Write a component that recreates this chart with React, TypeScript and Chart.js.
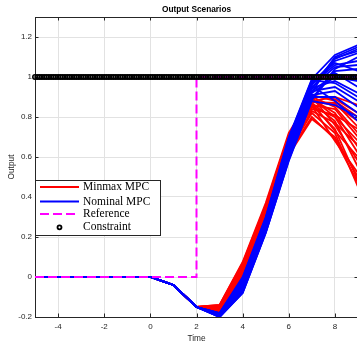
import React, { useEffect, useRef } from "react";
import { Chart, registerables } from "chart.js";

Chart.register(...registerables);

// ---------- data ----------
const timeSteps = [-5, -4, -3, -2, -1, 0, 1, 2, 3, 4, 5, 6, 7, 8, 9];
// shared output for t = -5 .. 2
const commonStart = [0, 0, 0, 0, 0, 0, -0.04, -0.15];

// Minmax MPC scenarios, values at t = 3 .. 9
const minmaxScenarios: number[][] = [
  [-0.14, 0.075, 0.37, 0.72, 0.91, 0.88, 0.8],
  [-0.145, 0.06, 0.35, 0.7, 0.9, 0.85, 0.72],
  [-0.15, 0.05, 0.34, 0.69, 0.89, 0.82, 0.65],
  [-0.155, 0.04, 0.33, 0.68, 0.88, 0.9, 0.86],
  [-0.16, 0.03, 0.32, 0.67, 0.87, 0.78, 0.55],
  [-0.165, 0.02, 0.31, 0.66, 0.86, 0.74, 0.48],
  [-0.17, 0.01, 0.3, 0.65, 0.85, 0.8, 0.62],
  [-0.175, -0.015, 0.27, 0.61, 0.79, 0.7, 0.5],
  [-0.14, 0.07, 0.36, 0.71, 0.9, 0.76, 0.58],
  [-0.15, 0.045, 0.335, 0.685, 0.88, 0.86, 0.78],
  [-0.16, 0.025, 0.315, 0.665, 0.86, 0.84, 0.7],
  [-0.17, 0.0, 0.29, 0.63, 0.82, 0.72, 0.45],
  [-0.145, 0.055, 0.345, 0.695, 0.895, 0.8, 0.68],
  [-0.155, 0.035, 0.325, 0.675, 0.875, 0.87, 0.75],
  [-0.165, 0.015, 0.305, 0.655, 0.855, 0.68, 0.52],
  [-0.15, 0.05, 0.34, 0.69, 0.87, 0.73, 0.6],
  [-0.16, 0.03, 0.32, 0.67, 0.84, 0.81, 0.74],
  [-0.145, 0.065, 0.355, 0.705, 0.905, 0.89, 0.82],
  [-0.17, 0.005, 0.295, 0.64, 0.83, 0.77, 0.66],
  [-0.175, -0.01, 0.28, 0.62, 0.8, 0.69, 0.47],
];

// Nominal MPC scenarios, values at t = 3 .. 9
const nominalScenarios: number[][] = [
  [-0.18, 0.0, 0.3, 0.7, 0.99, 1.11, 1.16],
  [-0.185, -0.02, 0.28, 0.68, 0.97, 1.08, 1.12],
  [-0.19, -0.04, 0.26, 0.65, 0.95, 1.05, 1.06],
  [-0.195, -0.06, 0.24, 0.62, 0.92, 1.0, 0.98],
  [-0.2, -0.08, 0.22, 0.58, 0.88, 0.86, 0.8],
  [-0.18, -0.01, 0.29, 0.69, 0.98, 1.02, 0.95],
  [-0.185, -0.03, 0.27, 0.66, 0.96, 1.09, 1.14],
  [-0.19, -0.05, 0.25, 0.63, 0.93, 0.95, 0.88],
  [-0.195, -0.07, 0.23, 0.6, 0.9, 0.9, 0.82],
  [-0.2, -0.075, 0.225, 0.59, 0.89, 1.04, 1.1],
  [-0.182, -0.015, 0.285, 0.685, 0.975, 1.07, 1.03],
  [-0.188, -0.035, 0.265, 0.655, 0.945, 0.98, 0.92],
  [-0.192, -0.045, 0.255, 0.64, 0.94, 1.1, 1.15],
  [-0.197, -0.065, 0.235, 0.61, 0.91, 0.93, 0.85],
  [-0.183, -0.025, 0.275, 0.67, 0.965, 1.06, 1.08],
  [-0.19, -0.05, 0.25, 0.635, 0.93, 1.01, 1.0],
  [-0.186, -0.03, 0.27, 0.66, 0.955, 0.88, 0.78],
  [-0.2, -0.08, 0.22, 0.585, 0.885, 1.03, 1.04],
  [-0.181, -0.005, 0.295, 0.695, 0.985, 0.97, 0.9],
  [-0.194, -0.055, 0.245, 0.625, 0.925, 1.095, 1.13],
];

const referenceTimes = [-5, 2, 2, 9];
const referenceValues = [0, 0, 1, 1];

const constraintLevel = 1;
const constraintStart = -5;
const constraintEnd = 9;
const constraintStep = 0.1;

const xTicks = [-4, -2, 0, 2, 4, 6, 8];
const yTicks = [-0.2, 0, 0.2, 0.4, 0.6, 0.8, 1, 1.2];
const xMin = -5;
const xMax = 9;
const yMin = -0.2;
const yMax = 1.3;

const seriesNames = ["Minmax MPC", "Nominal MPC", "Reference", "Constraint"];
const chartTitle = "Output Scenarios";
const xTitle = "Time";
const yTitle = "Output";

// ---------- styles ----------
const RED = "#ff0000";
const BLUE = "#0000ff";
const MAGENTA = "#ff00ff";
const AXIS = "#262626";
const GRID = "#e2e2e2";
const SANS = '"Liberation Sans", Arial, sans-serif';
const SERIF = '"Liberation Serif", "Times New Roman", serif';

const fmt = (v: number) => String(Math.round(v * 10) / 10);

function buildDatasets() {
  const ds: any[] = [];
  const constraintPts: { x: number; y: number }[] = [];
  const n = Math.round((constraintEnd - constraintStart) / constraintStep);
  for (let i = 0; i <= n; i++) {
    constraintPts.push({ x: constraintStart + i * constraintStep, y: constraintLevel });
  }
  ds.push({
    label: seriesNames[3],
    data: constraintPts,
    showLine: false,
    pointRadius: 2.2,
    pointBorderWidth: 1.6,
    pointBorderColor: "#000000",
    pointBackgroundColor: "rgba(0,0,0,0)",
    clip: false,
    order: 0,
  });
  ds.push({
    label: seriesNames[2],
    data: referenceTimes.map((t, i) => ({ x: t, y: referenceValues[i] })),
    borderColor: MAGENTA,
    borderWidth: 2,
    borderDash: [9, 4],
    pointRadius: 0,
    order: 1,
  });
  nominalScenarios.forEach((sc) => {
    const vals = commonStart.concat(sc);
    ds.push({
      label: seriesNames[1],
      data: timeSteps.map((t, i) => ({ x: t, y: vals[i] })),
      borderColor: BLUE,
      borderWidth: 1.8,
      pointRadius: 0,
      order: 2,
    });
  });
  minmaxScenarios.forEach((sc) => {
    const vals = commonStart.concat(sc);
    ds.push({
      label: seriesNames[0],
      data: timeSteps.map((t, i) => ({ x: t, y: vals[i] })),
      borderColor: RED,
      borderWidth: 1.8,
      pointRadius: 0,
      order: 3,
    });
  });
  return ds;
}

const framePlugin = {
  id: "matlabFrame",
  beforeDatasetsDraw(chart: any) {
    const { ctx, chartArea } = chart;
    const xs = chart.scales.x;
    const ys = chart.scales.y;
    const L = chartArea.left, R = chartArea.right, T = chartArea.top, B = chartArea.bottom;
    ctx.save();
    ctx.strokeStyle = AXIS;
    ctx.lineWidth = 1;
    ctx.beginPath();
    ctx.moveTo(L, Math.round(T) + 0.5);
    ctx.lineTo(R + 0.5, Math.round(T) + 0.5);
    ctx.moveTo(Math.round(R) + 0.5, T);
    ctx.lineTo(Math.round(R) + 0.5, B);
    const tl = 3.5;
    xTicks.forEach((v) => {
      const px = Math.round(xs.getPixelForValue(v)) + 0.5;
      ctx.moveTo(px, B);
      ctx.lineTo(px, B - tl);
      ctx.moveTo(px, T);
      ctx.lineTo(px, T + tl);
    });
    yTicks.forEach((v) => {
      const py = Math.round(ys.getPixelForValue(v)) + 0.5;
      ctx.moveTo(L, py);
      ctx.lineTo(L + tl, py);
      ctx.moveTo(R, py);
      ctx.lineTo(R - tl, py);
    });
    ctx.stroke();
    ctx.restore();
  },
  afterDraw(chart: any) {
    const { ctx, chartArea } = chart;
    const cx = (chartArea.left + chartArea.right) / 2;
    const cy = (chartArea.top + chartArea.bottom) / 2;
    ctx.save();
    // title
    ctx.fillStyle = "#000";
    ctx.font = `bold 8.3px ${SANS}`;
    ctx.textAlign = "center";
    ctx.textBaseline = "middle";
    ctx.fillText(chartTitle, cx, 10);
    // axis titles
    ctx.fillStyle = AXIS;
    ctx.font = `8.3px ${SANS}`;
    ctx.fillText(xTitle, cx, 339);
    ctx.save();
    ctx.translate(11.7, cy);
    ctx.rotate(-Math.PI / 2);
    ctx.fillText(yTitle, 0, 0);
    ctx.restore();

    // legend
    const bx = 35.5, by = 180.5, bw = 125, bh = 55;
    ctx.fillStyle = "#ffffff";
    ctx.fillRect(bx, by, bw, bh);
    ctx.strokeStyle = AXIS;
    ctx.lineWidth = 1;
    ctx.strokeRect(bx, by, bw, bh);
    const rows = [187, 201.5, 214, 227.3];
    const x0 = 40, x1 = 79, tx = 83;
    ctx.font = `11.5px ${SERIF}`;
    ctx.textAlign = "left";
    ctx.textBaseline = "middle";
    seriesNames.forEach((name, i) => {
      const y = rows[i];
      if (i < 3) {
        ctx.beginPath();
        ctx.strokeStyle = i === 0 ? RED : i === 1 ? BLUE : MAGENTA;
        ctx.lineWidth = 2;
        ctx.setLineDash(i === 2 ? [9, 4] : []);
        ctx.moveTo(x0, y);
        ctx.lineTo(x1, y);
        ctx.stroke();
        ctx.setLineDash([]);
      } else {
        ctx.beginPath();
        ctx.strokeStyle = "#000";
        ctx.lineWidth = 1.8;
        ctx.arc((x0 + x1) / 2, y, 2, 0, Math.PI * 2);
        ctx.stroke();
      }
      ctx.fillStyle = "#000";
      ctx.fillText(name, tx, y);
    });
    ctx.restore();
  },
};

export default function App() {
  const ref = useRef<HTMLCanvasElement>(null);
  useEffect(() => {
    if (!ref.current) return;
    const chart = new Chart(ref.current, {
      type: "line",
      data: { datasets: buildDatasets() },
      options: {
        animation: false,
        responsive: false,
        devicePixelRatio: 1,
        layout: { padding: { left: 0, top: 17, right: 12, bottom: 0 } },
        plugins: {
          legend: { display: false },
          title: { display: false },
          tooltip: { enabled: false },
        },
        elements: { line: { tension: 0 } },
        scales: {
          x: {
            type: "linear",
            min: xMin,
            max: xMax,
            afterBuildTicks: (s: any) => {
              s.ticks = xTicks.map((v) => ({ value: v }));
            },
            afterFit: (s: any) => {
              s.height = 26;
            },
            grid: { color: GRID, lineWidth: 1, drawTicks: false },
            border: { display: true, color: AXIS, width: 1 },
            ticks: {
              padding: 5,
              color: AXIS,
              autoSkip: false,
              maxRotation: 0,
              font: { family: SANS, size: 8 },
              callback: (v: any) => fmt(Number(v)),
            },
          },
          y: {
            type: "linear",
            min: yMin,
            max: yMax,
            afterBuildTicks: (s: any) => {
              s.ticks = yTicks.map((v) => ({ value: v }));
            },
            afterFit: (s: any) => {
              s.width = 35;
            },
            grid: { color: GRID, lineWidth: 1, drawTicks: false },
            border: { display: true, color: AXIS, width: 1 },
            ticks: {
              padding: 3,
              color: AXIS,
              autoSkip: false,
              font: { family: SANS, size: 8 },
              callback: (v: any) => fmt(Number(v)),
            },
          },
        },
      } as any,
      plugins: [framePlugin],
    });
    return () => chart.destroy();
  }, []);
  return (
    <div
      style={{
        position: "fixed",
        left: 0,
        top: 0,
        width: 357,
        height: 343,
        overflow: "hidden",
        background: "#ffffff",
      }}
    >
      <canvas ref={ref} width={370} height={343} style={{ display: "block", width: 370, height: 343 }} />
    </div>
  );
}
